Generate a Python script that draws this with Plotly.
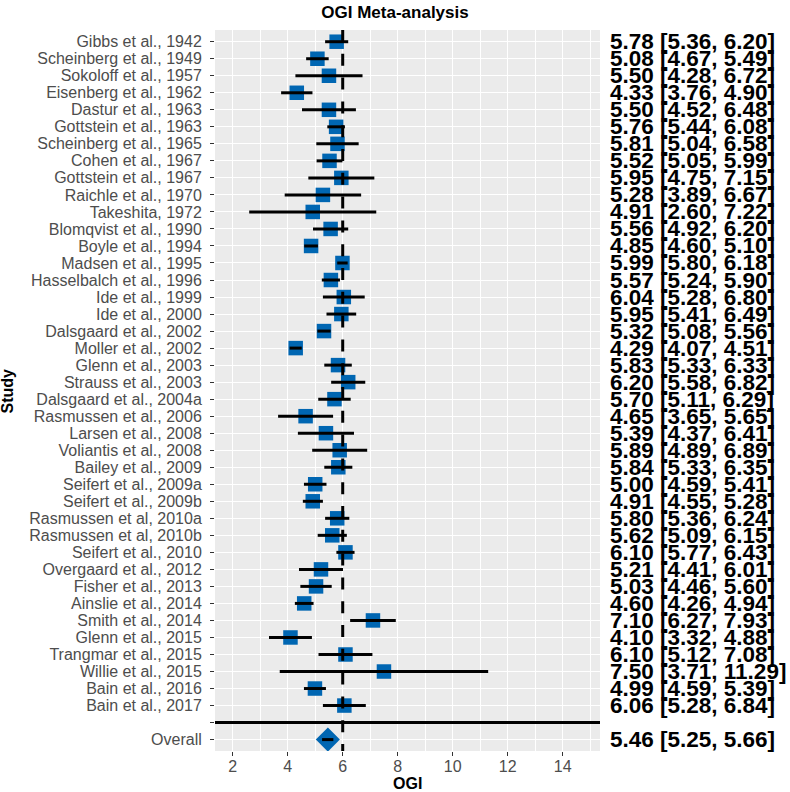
import plotly.graph_objects as go

studies = ["Gibbs et al., 1942", "Scheinberg et al., 1949", "Sokoloff et al., 1957",
           "Eisenberg et al., 1962", "Dastur et al., 1963", "Gottstein et al., 1963",
           "Scheinberg et al., 1965", "Cohen et al., 1967", "Gottstein et al., 1967",
           "Raichle et al., 1970", "Takeshita, 1972", "Blomqvist et al., 1990",
           "Boyle et al., 1994", "Madsen et al., 1995", "Hasselbalch et al., 1996",
           "Ide et al., 1999", "Ide et al., 2000", "Dalsgaard et al., 2002",
           "Moller et al., 2002", "Glenn et al., 2003", "Strauss et al., 2003",
           "Dalsgaard et al., 2004a", "Rasmussen et al., 2006", "Larsen et al., 2008",
           "Voliantis et al., 2008", "Bailey et al., 2009", "Seifert et al., 2009a",
           "Seifert et al., 2009b", "Rasmussen et al, 2010a", "Rasmussen et al, 2010b",
           "Seifert et al., 2010", "Overgaard et al., 2012", "Fisher et al., 2013",
           "Ainslie et al., 2014", "Smith et al., 2014", "Glenn et al., 2015",
           "Trangmar et al., 2015", "Willie et al., 2015", "Bain et al., 2016",
           "Bain et al., 2017"]
est = [5.78, 5.08, 5.50, 4.33, 5.50, 5.76, 5.81, 5.52, 5.95, 5.28, 4.91, 5.56, 4.85,
       5.99, 5.57, 6.04, 5.95, 5.32, 4.29, 5.83, 6.20, 5.70, 4.65, 5.39, 5.89, 5.84,
       5.00, 4.91, 5.80, 5.62, 6.10, 5.21, 5.03, 4.60, 7.10, 4.10, 6.10, 7.50, 4.99, 6.06]
lo = [5.36, 4.67, 4.28, 3.76, 4.52, 5.44, 5.04, 5.05, 4.75, 3.89, 2.60, 4.92, 4.60,
      5.80, 5.24, 5.28, 5.41, 5.08, 4.07, 5.33, 5.58, 5.11, 3.65, 4.37, 4.89, 5.33,
      4.59, 4.55, 5.36, 5.09, 5.77, 4.41, 4.46, 4.26, 6.27, 3.32, 5.12, 3.71, 4.59, 5.28]
hi = [6.20, 5.49, 6.72, 4.90, 6.48, 6.08, 6.58, 5.99, 7.15, 6.67, 7.22, 6.20, 5.10,
      6.18, 5.90, 6.80, 6.49, 5.56, 4.51, 6.33, 6.82, 6.29, 5.65, 6.41, 6.89, 6.35,
      5.41, 5.28, 6.24, 6.15, 6.43, 6.01, 5.60, 4.94, 7.93, 4.88, 7.08, 11.29, 5.39, 6.84]
overall_label = "Overall"
overall_est = 5.46
overall_lo = 5.25
overall_hi = 5.66
ref_value = 6
x_ticks = [2, 4, 6, 8, 10, 12, 14]

n = len(studies)
ys = list(range(1, n + 1))
sep_y = n + 1
overall_y = n + 2

blue = "#0066B2"
font_family = "Liberation Sans, Arial, sans-serif"
txt_size = 22.5

fig = go.Figure()

# study squares
fig.add_trace(go.Scatter(x=est, y=ys, mode="markers",
                         marker=dict(symbol="square", size=14.5, color=blue),
                         hoverinfo="skip", showlegend=False))
# overall diamond
fig.add_trace(go.Scatter(x=[overall_est], y=[overall_y], mode="markers",
                         marker=dict(symbol="diamond", size=18.5, color=blue),
                         hoverinfo="skip", showlegend=False))

# error bars
ex, ey = [], []
for l, h, y in zip(lo + [overall_lo], hi + [overall_hi], ys + [overall_y]):
    ex += [l, h, None]
    ey += [y, y, None]
fig.add_trace(go.Scatter(x=ex, y=ey, mode="lines", line=dict(color="black", width=3),
                         hoverinfo="skip", showlegend=False))

# reference dashed line
fig.add_shape(type="line", xref="x", yref="paper", x0=ref_value, x1=ref_value,
              y0=1, y1=0, line=dict(color="black", width=3, dash="12px,11.8px"),
              layer="above")
# separator line
fig.add_shape(type="line", xref="paper", yref="y", x0=0, x1=1, y0=sep_y, y1=sep_y,
              line=dict(color="black", width=3), layer="above")

# right-hand text
labels_all = [f"{e:.2f} [{l:.2f}, {h:.2f}]" for e, l, h in zip(est, lo, hi)]
for y, t in zip(ys, labels_all):
    fig.add_annotation(x=1.022, xref="paper", y=y, yref="y", text=t, showarrow=False,
                       xanchor="left", yanchor="middle",
                       font=dict(family=font_family, size=txt_size, color="black",
                                 weight="bold"))
fig.add_annotation(x=1.022, xref="paper", y=overall_y, yref="y",
                   text=f"{overall_est:.2f} [{overall_lo:.2f}, {overall_hi:.2f}]",
                   showarrow=False, xanchor="left", yanchor="middle",
                   font=dict(family=font_family, size=txt_size, color="black",
                             weight="bold"))

# axis titles
fig.add_annotation(x=-0.5377, xref="paper", y=0.5, yref="paper", text="Study",
                   textangle=-90, showarrow=False, xanchor="center", yanchor="middle",
                   font=dict(family=font_family, size=16, color="black", weight="bold"))
fig.add_annotation(x=0.5, xref="paper", y=-0.0444, yref="paper", text="OGI",
                   showarrow=False, xanchor="center", yanchor="middle",
                   font=dict(family=font_family, size=16, color="black", weight="bold"))

fig.update_layout(
    width=790, height=792,
    margin=dict(l=215, r=190, t=30, b=41, pad=0),
    paper_bgcolor="white", plot_bgcolor="#EBEBEB",
    title=dict(text="<b>OGI Meta-analysis</b>", x=0.5, xanchor="center",
               y=1 - 12 / 792, yanchor="middle",
               font=dict(family=font_family, size=17, color="black")),
    font=dict(family=font_family),
    xaxis=dict(range=[1.356, 15.356], tickvals=x_ticks, showgrid=True,
               gridcolor="white", gridwidth=1.2, zeroline=False, showline=False,
               ticks="outside", ticklen=4, tickcolor="#333333", tickwidth=1,
               ticklabelstandoff=-3,
               tickfont=dict(size=16, color="#4D4D4D"),
               minor=dict(tick0=1, dtick=2, showgrid=True, gridcolor="white",
                          gridwidth=0.6)),
    yaxis=dict(range=[overall_y + 0.67, 0.312], tickvals=ys + [sep_y, overall_y],
               ticktext=studies + ["", overall_label], showgrid=True,
               gridcolor="white", gridwidth=1.2, zeroline=False, showline=False,
               ticks="outside", ticklen=4, tickcolor="#333333", tickwidth=1,
               ticklabelstandoff=5,
               tickfont=dict(size=16, color="#4D4D4D")),
)

fig.write_html("out.html", config={"displayModeBar": False},
               post_script="document.body.style.margin='0';")
